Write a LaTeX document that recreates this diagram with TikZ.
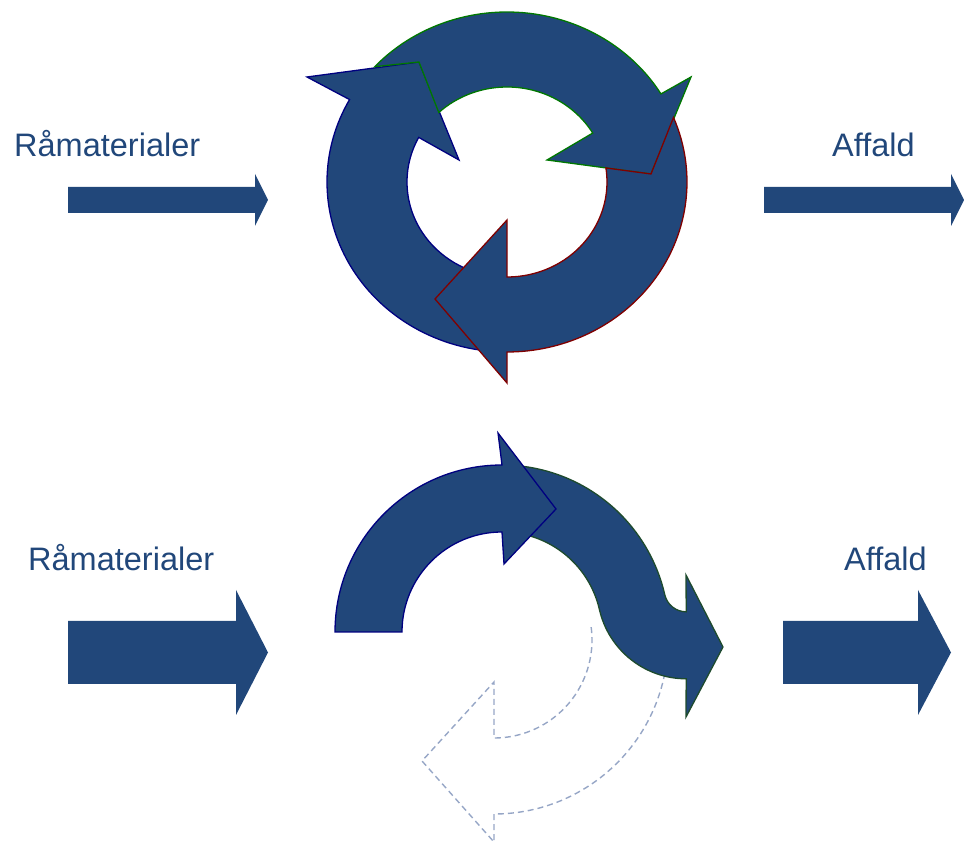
\documentclass[tikz,border=0pt]{standalone}
\usepackage{fontspec}
\setmainfont{Liberation Sans}

\definecolor{flowblue}{RGB}{33,71,122}
\definecolor{navyline}{RGB}{0,0,128}
\definecolor{greenline}{RGB}{0,120,0}
\definecolor{redline}{RGB}{128,0,0}
\definecolor{sline}{RGB}{30,75,45}
\definecolor{ghostline}{RGB}{150,166,198}

\begin{document}
\begin{tikzpicture}[x=1pt, y=1pt,
        flow/.style={fill=flowblue},
        ring/.style={fill=flowblue, line width=1.3pt},
        ghost/.style={draw=ghostline, line width=1.4pt,
                      dash pattern=on 6pt off 4pt},
        flowtext/.style={anchor=base west, inner sep=0pt, text=flowblue,
                         font=\fontsize{32.5}{39}\selectfont}
    ]
    \useasboundingbox (0,0) rectangle (964,843);

    \node[flowtext] (rawTop)   at (14,686)  {Råmaterialer};
    \node[flowtext] (wasteTop) at (832,686) {Affald};
    \node[flowtext] (rawBot)   at (28,272)  {Råmaterialer};
    \node[flowtext] (wasteBot) at (844,272) {Affald};

    % straight arrows: start / head / tip / middle / half body / half head
    \foreach \Xa/\Xb/\Xc/\Ym/\Body/\Head in {%
        68/255/268/643/13/26,
        764/951/964/643/13/26,
        68/236/268/190.5/31.5/62.5,
        783/918/951/190.5/31.5/62.5%
        }
        \fill[flow] (\Xa,\Ym-\Body) -- (\Xb,\Ym-\Body) -- (\Xb,\Ym-\Head)
                    -- (\Xc,\Ym) -- (\Xb,\Ym+\Head) -- (\Xb,\Ym+\Body)
                    -- (\Xa,\Ym+\Body) -- cycle;

    % closed loop
    \begin{scope}[shift={(507,661)}]
        \filldraw[ring, draw=navyline]
            (265:180 and 170)
            arc[start angle=265, end angle=151, x radius=180pt, y radius=170pt]
            -- (-200,105) -- (-88,120) -- (-48,22)
            -- (152:100 and 95)
            arc[start angle=152, end angle=265, x radius=100pt, y radius=95pt]
            -- cycle;
        \filldraw[ring, draw=greenline]
            (137.3:180 and 170)
            arc[start angle=137.3, end angle=31.2, x radius=180pt, y radius=170pt]
            -- (184,105) -- (144,8) -- (40,22)
            -- (31:100 and 95)
            arc[start angle=31, end angle=133, x radius=100pt, y radius=95pt]
            -- (-88,120) -- cycle;
        \filldraw[ring, draw=redline]
            (22.3:180 and 170)
            arc[start angle=22.3, end angle=-90, x radius=180pt, y radius=170pt]
            -- (0,-201) -- (-72,-117) -- (0,-38)
            -- (0,-95)
            arc[start angle=-90, end angle=8.5, x radius=100pt, y radius=95pt]
            -- (144,8) -- cycle;
    \end{scope}
    %
    % open loop
    \begin{scope}[shift={(494,203)}]
        \draw[ghost]
            (-11:174) arc[start angle=-11, end angle=-90, radius=174pt]
            -- (0,-202) -- (-72,-121) -- (0,-42) -- (0,-98)
            arc[start angle=-90, end angle=8, radius=98pt];
    \end{scope}
    \begin{scope}[shift={(502,211)}]
        \filldraw[ring, draw=sline]
            (85:167) arc[start angle=85, end angle=12.9, radius=167pt]
            arc[start angle=192.9, end angle=270, radius=22pt]
            -- (184,57) -- (221,-15) -- (184,-85) -- (184.2,-46.8)
            arc[start angle=270, end angle=192.9, radius=89pt]
            arc[start angle=12.9, end angle=85, radius=100pt]
            -- cycle;
        \filldraw[ring, draw=navyline]
            (-167,0) arc[start angle=180, end angle=90, radius=167pt]
            -- (-4,199) -- (54,123) -- (2,68) -- (0,100)
            arc[start angle=90, end angle=180, radius=100pt]
            -- cycle;
    \end{scope}
\end{tikzpicture}
\end{document}
